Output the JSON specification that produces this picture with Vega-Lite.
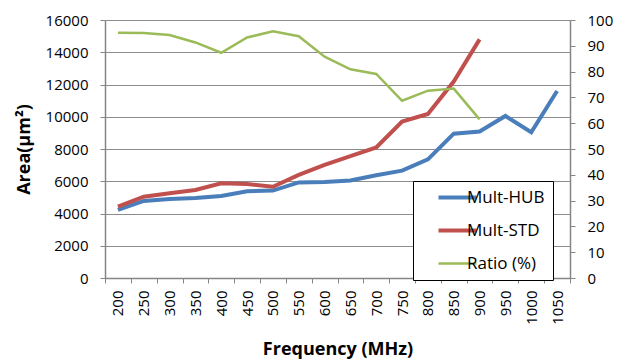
{
  "$schema": "https://vega.github.io/schema/vega-lite/v6.json",
  "width": 465,
  "height": 258,
  "padding": {"left": 105, "top": 20, "right": 47, "bottom": 85},
  "autosize": {"type": "none"},
  "background": "white",
  "config": {
    "font": "Open Sans",
    "view": {"stroke": null},
    "axis": {
      "labelFont": "Open Sans",
      "labelFontSize": 15,
      "labelColor": "#000000",
      "labelOverlap": false,
      "titleFont": "Open Sans",
      "titleFontSize": 18,
      "titleFontWeight": "bold",
      "titleColor": "#000000",
      "domainColor": "#868686",
      "tickColor": "#868686",
      "gridColor": "#8c8c8c",
      "domainWidth": 1.5,
      "tickSize": 5,
      "labelPadding": 12
    }
  },
  "data": {
    "values": [
      {"freq": 200, "series": "Mult-HUB", "value": 4220},
      {"freq": 250, "series": "Mult-HUB", "value": 4780},
      {"freq": 300, "series": "Mult-HUB", "value": 4900},
      {"freq": 350, "series": "Mult-HUB", "value": 4960},
      {"freq": 400, "series": "Mult-HUB", "value": 5090},
      {"freq": 450, "series": "Mult-HUB", "value": 5380},
      {"freq": 500, "series": "Mult-HUB", "value": 5420},
      {"freq": 550, "series": "Mult-HUB", "value": 5930},
      {"freq": 600, "series": "Mult-HUB", "value": 5950},
      {"freq": 650, "series": "Mult-HUB", "value": 6050},
      {"freq": 700, "series": "Mult-HUB", "value": 6370},
      {"freq": 750, "series": "Mult-HUB", "value": 6660},
      {"freq": 800, "series": "Mult-HUB", "value": 7360},
      {"freq": 850, "series": "Mult-HUB", "value": 8950},
      {"freq": 900, "series": "Mult-HUB", "value": 9080},
      {"freq": 950, "series": "Mult-HUB", "value": 10050},
      {"freq": 1000, "series": "Mult-HUB", "value": 9040},
      {"freq": 1050, "series": "Mult-HUB", "value": 11600},
      {"freq": 200, "series": "Mult-STD", "value": 4420},
      {"freq": 250, "series": "Mult-STD", "value": 5040},
      {"freq": 300, "series": "Mult-STD", "value": 5250},
      {"freq": 350, "series": "Mult-STD", "value": 5460},
      {"freq": 400, "series": "Mult-STD", "value": 5870},
      {"freq": 450, "series": "Mult-STD", "value": 5830},
      {"freq": 500, "series": "Mult-STD", "value": 5660},
      {"freq": 550, "series": "Mult-STD", "value": 6390},
      {"freq": 600, "series": "Mult-STD", "value": 7010},
      {"freq": 650, "series": "Mult-STD", "value": 7560},
      {"freq": 700, "series": "Mult-STD", "value": 8100},
      {"freq": 750, "series": "Mult-STD", "value": 9700},
      {"freq": 800, "series": "Mult-STD", "value": 10170},
      {"freq": 850, "series": "Mult-STD", "value": 12180},
      {"freq": 900, "series": "Mult-STD", "value": 14800},
      {"freq": 200, "series": "Ratio (%)", "value": 95.1},
      {"freq": 250, "series": "Ratio (%)", "value": 95.0},
      {"freq": 300, "series": "Ratio (%)", "value": 94.2},
      {"freq": 350, "series": "Ratio (%)", "value": 91.3},
      {"freq": 400, "series": "Ratio (%)", "value": 87.3},
      {"freq": 450, "series": "Ratio (%)", "value": 93.2},
      {"freq": 500, "series": "Ratio (%)", "value": 95.6},
      {"freq": 550, "series": "Ratio (%)", "value": 93.7},
      {"freq": 600, "series": "Ratio (%)", "value": 85.8},
      {"freq": 650, "series": "Ratio (%)", "value": 80.9},
      {"freq": 700, "series": "Ratio (%)", "value": 79.1},
      {"freq": 750, "series": "Ratio (%)", "value": 68.7},
      {"freq": 800, "series": "Ratio (%)", "value": 72.6},
      {"freq": 850, "series": "Ratio (%)", "value": 73.4},
      {"freq": 900, "series": "Ratio (%)", "value": 61.5}
    ]
  },
  "encoding": {
    "x": {
      "field": "freq",
      "type": "ordinal",
      "bandPosition": 0.5,
      "scale": {"type": "band", "paddingInner": 0, "paddingOuter": 0},
      "axis": {
        "title": "Frequency (MHz)",
        "labelAngle": -90,
        "labelAlign": "right",
        "labelBaseline": "middle",
        "labelPadding": 7,
        "tickBand": "extent",
        "grid": false,
        "titlePadding": 16
      }
    },
    "color": {
      "field": "series",
      "type": "nominal",
      "scale": {
        "domain": ["Mult-HUB", "Mult-STD", "Ratio (%)"],
        "range": ["#4a7ebb", "#c0504d", "#9bbb59"]
      },
      "legend": {
        "title": null,
        "orient": "none",
        "legendX": 308,
        "legendY": 161,
        "symbolType": "stroke",
        "symbolSize": 1444,
        "symbolStrokeWidth": 4,
        "symbolOffset": 28,
        "labelFontSize": 17,
        "labelFont": "Open Sans",
        "labelColor": "#000000",
        "labelOffset": 1,
        "rowPadding": 15,
        "padding": 8,
        "strokeColor": "#000000",
        "fillColor": "#ffffff",
        "encode": {
          "symbols": {
            "update": {
              "strokeWidth": {"signal": "datum.value === 'Ratio (%)' ? 2.5 : 4"}
            }
          }
        }
      }
    }
  },
  "layer": [
    {
      "transform": [{"filter": "datum.series !== 'Ratio (%)'"}],
      "mark": {"type": "line", "strokeWidth": 4},
      "encoding": {
        "y": {
          "field": "value",
          "type": "quantitative",
          "scale": {"domain": [0, 16000]},
          "axis": {
            "title": "Area(µm²)",
            "values": [0, 2000, 4000, 6000, 8000, 10000, 12000, 14000, 16000],
            "format": "d",
            "grid": true,
            "titlePadding": 12
          }
        }
      }
    },
    {
      "transform": [{"filter": "datum.series === 'Ratio (%)'"}],
      "mark": {"type": "line", "strokeWidth": 2.5},
      "encoding": {
        "y": {
          "field": "value",
          "type": "quantitative",
          "scale": {"domain": [0, 100]},
          "axis": {
            "orient": "right",
            "title": null,
            "values": [0, 10, 20, 30, 40, 50, 60, 70, 80, 90, 100],
            "grid": false,
            "labelAlign": "left"
          }
        }
      }
    }
  ],
  "resolve": {"scale": {"y": "independent"}}
}
